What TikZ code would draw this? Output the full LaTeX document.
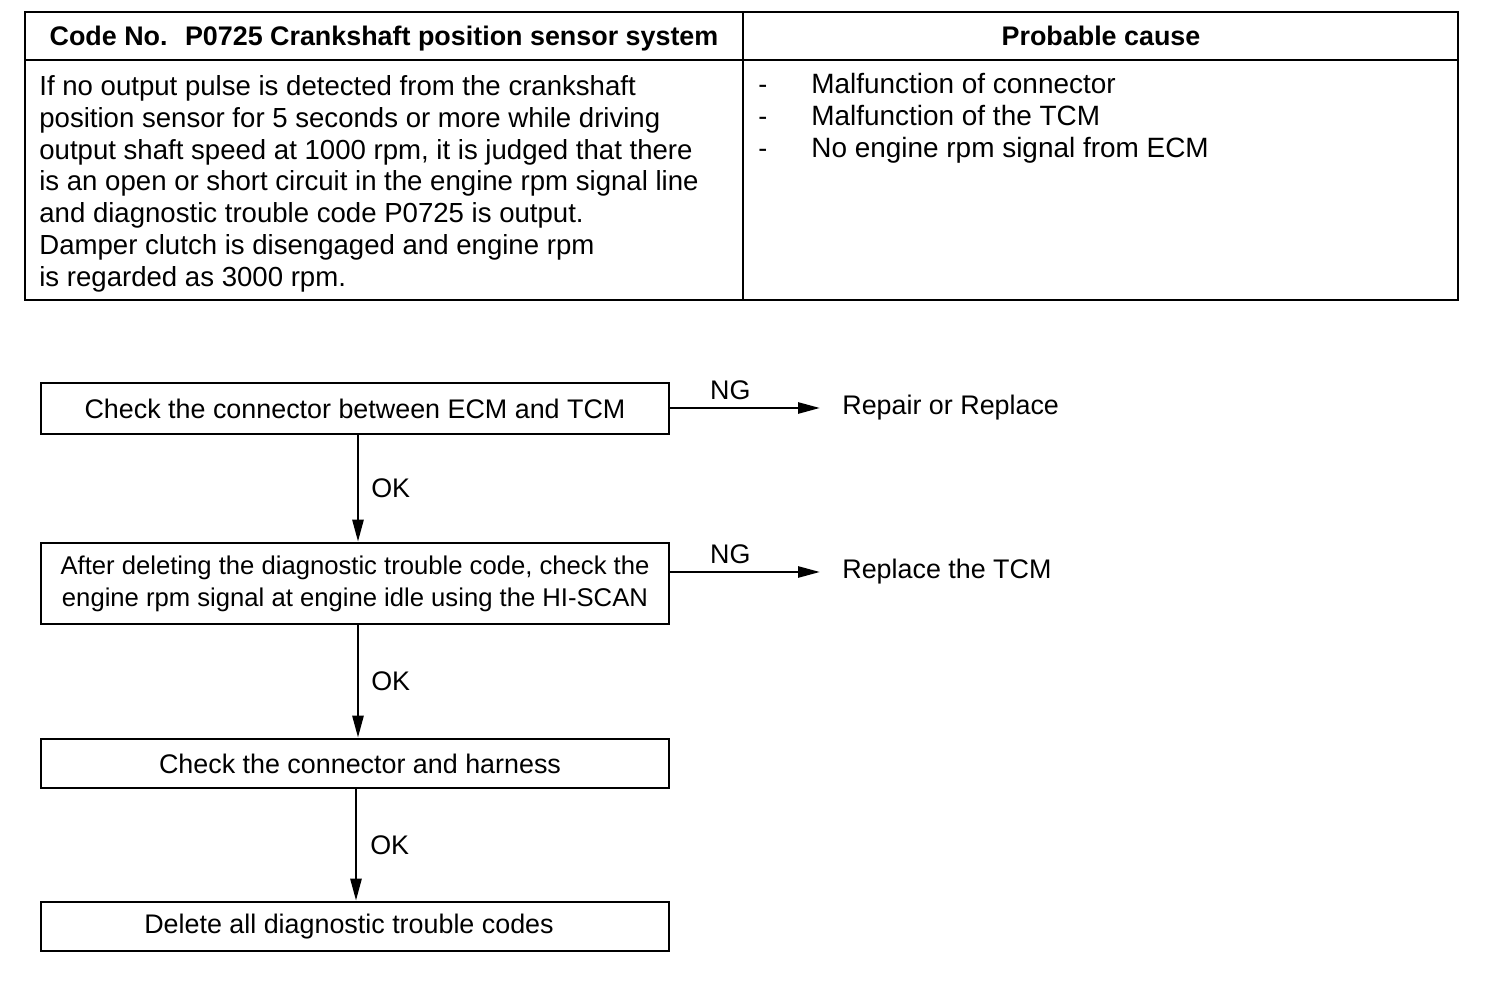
\documentclass[tikz,border=0pt]{standalone}
\usepackage{fontspec}
\setmainfont{Liberation Sans}
\usetikzlibrary{arrows.meta,positioning}

\tikzset{
    box/.style={draw, line width=1.5pt, minimum width=12.56cm, inner sep=0pt, align=center},
    txt/.style={inner sep=0pt, font=\fontsize{15.3}{18.14}\selectfont},
    flow/.style={line width=1.5pt, -{Triangle[length=0.44cm, width=0.22cm]}},
}

\begin{document}
\begin{tikzpicture}[x=0.02cm, y=-0.02cm, every node/.style={txt}]
        \useasboundingbox (0, 0) rectangle (1504, 982);

        % table
        \draw[line width=1.5pt] (25, 12) rectangle (1458, 300);
        \draw[line width=1.5pt] (25, 60) -- (1458, 60);
        \draw[line width=1.5pt] (743, 12) -- (743, 300);
        \node[anchor=base, font=\fontsize{15.3}{18.14}\selectfont\bfseries] (code) at (384, 46) {Code No.~ P0725 Crankshaft position sensor system};
        \node[anchor=base, font=\fontsize{15.3}{18.14}\selectfont\bfseries] (cause) at (1101, 46) {Probable cause};
        \node[anchor=north west, align=left, font=\fontsize{15.7}{18.14}\selectfont] (cond) at (39, 75) {If no output pulse is detected from the crankshaft\\
            position sensor for 5 seconds or more while driving\\
            output shaft speed at 1000 rpm, it is judged that there\\
            is an open or short circuit in the engine rpm signal line\\
            and diagnostic trouble code P0725 is output.\\
            Damper clutch is disengaged and engine rpm\\
            is regarded as 3000 rpm.};
        \foreach \item [count=\i] in {Malfunction of connector, Malfunction of the TCM, No engine rpm signal from ECM}
        {
            \node[anchor=base west] (dash\i) at (758, 62 + 32 * \i) {-};
            \node[anchor=base west, font=\fontsize{15.9}{18.14}\selectfont] (item\i) at (811, 62 + 32 * \i) {\item};
        }

        % flow chart
        \node[box, minimum height=1.02cm] (conn) at (355, 408.5) {Check the connector between ECM and TCM};
        \node[box, minimum height=1.62cm, font=\fontsize{14.6}{18.14}\selectfont] (idle) at (355, 583.5) {After deleting the diagnostic trouble code, check the\\ engine rpm signal at engine idle using the HI-SCAN};
        \node[box, minimum height=0.98cm] (harn) at (355, 763.5) {\hspace{0.2cm}Check the connector and harness};
        \node[box, minimum height=0.98cm] (del) at (355, 926.5) {Delete all diagnostic trouble codes\hspace{0.24cm}};

        \node[anchor=west] (repair) at (842, 408) {Repair or Replace};
        \node[anchor=west] (tcm) at (842, 572) {Replace the TCM};

        \draw[flow, shorten >=0.44cm] (repair.west -| conn.east) -- node[pos=0.35, above=0.14cm] {NG} (repair.west);
        \draw[flow, shorten >=0.44cm] (tcm.west -| idle.east) -- node[pos=0.35, above=0.14cm] {NG} (tcm.west);

        \draw[flow] ([xshift=0.06cm] conn.south) -- node[right=0.24cm] {OK} ([xshift=0.06cm] idle.north);
        \draw[flow] ([xshift=0.06cm] idle.south) -- node[right=0.24cm] {OK} ([xshift=0.06cm] harn.north);
        \draw[flow] ([xshift=0.02cm] harn.south) -- node[right=0.26cm] {OK} ([xshift=0.02cm] del.north);

    \end{tikzpicture}
\end{document}
